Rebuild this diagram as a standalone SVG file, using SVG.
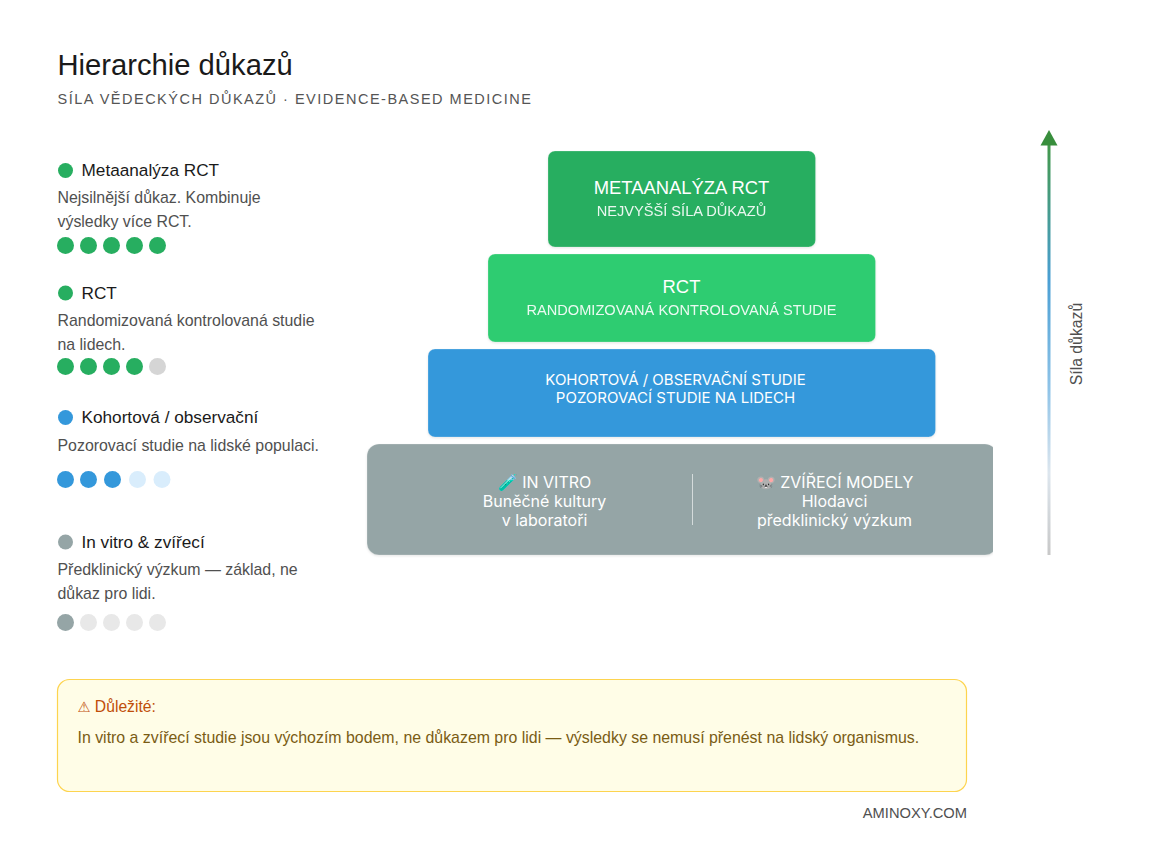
<svg xmlns="http://www.w3.org/2000/svg" width="1168" height="850" viewBox="0 0 1168 850">
<style>
text{font-family:"Liberation Sans",Arial,sans-serif}
.h{font-size:17.200px;fill:#1a1a1a}
.d{font-size:15.900px;fill:#505050}
.w{font-family:Inter,"Liberation Sans",sans-serif;fill:#fff;text-anchor:middle}
.p{stroke:#fff;stroke-opacity:.22;filter:drop-shadow(0 1px 1px rgba(0,0,0,.1))}
.ls{font-family:"Liberation Sans",sans-serif}
</style>
<defs>
<linearGradient id="ax" x1="0" y1="0" x2="0" y2="1">
<stop offset="0" stop-color="#43984a"/><stop offset=".33" stop-color="#4a9fd4"/><stop offset=".6" stop-color="#90c4e8"/><stop offset=".8" stop-color="#dde6ee"/><stop offset="1" stop-color="#c8c8c8"/>
</linearGradient>
<clipPath id="cl"><rect x="360" y="440" width="633" height="120"/></clipPath>
</defs>
<rect width="1168" height="850" fill="#fff"/>
<g id="title">
<text x="57.500" y="74.500" font-size="29.200" fill="#1a1a1a">Hierarchie důkazů</text>
<text x="57.500" y="104" font-size="14.500" letter-spacing="1.500" fill="#555">SÍLA VĚDECKÝCH DŮKAZŮ · EVIDENCE-BASED MEDICINE</text>
</g>
<g id="legend-meta">
<circle cx="65.500" cy="170.500" r="7.500" fill="#27ae60"/>
<text class="h" x="81.500" y="176">Metaanalýza RCT</text>
<text class="d" x="57.500" y="203">Nejsilnější důkaz. Kombinuje</text>
<text class="d" x="57.500" y="227">výsledky více RCT.</text>
<g fill="#27ae60"><circle cx="65.500" cy="245.500" r="8.500"/><circle cx="88.500" cy="245.500" r="8.500"/><circle cx="111.500" cy="245.500" r="8.500"/><circle cx="134.500" cy="245.500" r="8.500"/><circle cx="157.500" cy="245.500" r="8.500"/></g>
</g>
<g id="legend-rct">
<circle cx="65.500" cy="293" r="7.500" fill="#27ae60"/>
<text class="h" x="81.500" y="299">RCT</text>
<text class="d" x="57.500" y="326">Randomizovaná kontrolovaná studie</text>
<text class="d" x="57.500" y="350">na lidech.</text>
<g fill="#27ae60"><circle cx="65.500" cy="366.500" r="8.500"/><circle cx="88.500" cy="366.500" r="8.500"/><circle cx="111.500" cy="366.500" r="8.500"/><circle cx="134.500" cy="366.500" r="8.500"/></g><circle cx="157.500" cy="366.500" r="8.500" fill="#d5d5d5"/>
</g>
<g id="legend-cohort">
<circle cx="65.500" cy="417.500" r="7.500" fill="#3498db"/>
<text class="h" x="81.500" y="423">Kohortová / observační</text>
<text class="d" x="57.500" y="450.500">Pozorovací studie na lidské populaci.</text>
<g fill="#3498db"><circle cx="65.500" cy="479.500" r="8.500"/><circle cx="88.500" cy="479.500" r="8.500"/><circle cx="112.500" cy="479.500" r="8.500"/></g><g fill="#d9edfc"><circle cx="137.500" cy="479.500" r="8.500"/><circle cx="162" cy="479.500" r="8.500"/></g>
</g>
<g id="legend-vitro">
<circle cx="65.500" cy="542" r="7.500" fill="#95a5a6"/>
<text class="h" x="81.500" y="548">In vitro &amp; zvířecí</text>
<text class="d" x="57.500" y="574.500">Předklinický výzkum — základ, ne</text>
<text class="d" x="57.500" y="598.500">důkaz pro lidi.</text>
<circle cx="65.500" cy="622.500" r="8.500" fill="#95a5a6"/>
<g fill="#e8e8e8"><circle cx="88.500" cy="622.500" r="8.500"/><circle cx="111.500" cy="622.500" r="8.500"/><circle cx="134.500" cy="622.500" r="8.500"/><circle cx="157.500" cy="622.500" r="8.500"/></g>
</g>
<g id="tier-meta">
<rect class="p" x="548" y="151" width="267.500" height="96" rx="7" fill="#27ae60"/>
<text class="w ls" x="681.500" y="193.500" font-size="18.400" style="font-family:'Liberation Sans',sans-serif">METAANALÝZA RCT</text>
<text class="w ls" x="681.500" y="216" font-size="14.600" opacity=".9" style="font-family:'Liberation Sans',sans-serif">NEJVYŠŠÍ SÍLA DŮKAZŮ</text>
</g>
<g id="tier-rct">
<rect class="p" x="488" y="254" width="387.500" height="88" rx="7" fill="#2ecc71"/>
<text class="w ls" x="681.500" y="292.500" font-size="18.400" style="font-family:'Liberation Sans',sans-serif">RCT</text>
<text class="w ls" x="681.500" y="315" font-size="14.600" opacity=".9" style="font-family:'Liberation Sans',sans-serif">RANDOMIZOVANÁ KONTROLOVANÁ STUDIE</text>
</g>
<g id="tier-cohort">
<rect class="p" x="428" y="349" width="507.500" height="88" rx="7" fill="#3498db"/>
<text class="w" x="675.500" y="385" font-size="15">KOHORTOVÁ / OBSERVAČNÍ STUDIE</text>
<text class="w" x="675.500" y="403" font-size="15">POZOROVACÍ STUDIE NA LIDECH</text>
</g>
<g id="tier-base">
<g clip-path="url(#cl)"><rect class="p" x="367" y="444" width="630" height="111" rx="12" fill="#95a5a6"/></g>
<line x1="692.500" y1="474" x2="692.500" y2="525" stroke="#fff" stroke-opacity=".6"/>
<text class="w" x="544.500" y="488" font-size="16">🧪 IN VITRO</text>
<text class="w" x="544.500" y="507" font-size="16">Buněčné kultury</text>
<text class="w" x="544.500" y="526" font-size="16">v laboratoři</text>
<text class="w" x="834.500" y="488" font-size="16">🐭 ZVÍŘECÍ MODELY</text>
<text class="w" x="834.500" y="507" font-size="16">Hlodavci</text>
<text class="w" x="834.500" y="526" font-size="16">předklinický výzkum</text>
</g>
<g id="connectors">
<rect x="1047.500" y="144" width="3" height="411" fill="url(#ax)"/>
<polygon points="1049,130 1057.500,145.500 1040.500,145.500" fill="#388e3c"/>
</g>
<text x="1082" y="344" font-size="15.800" fill="#505050" text-anchor="middle" transform="rotate(-90 1082 344)">Síla důkazů</text>
<g id="note">
<rect x="57.500" y="679.500" width="909" height="112" rx="12" fill="#fffde7" stroke="#fdd44f" stroke-width="1.200"/>
<text x="77.500" y="712" font-size="15.700" fill="#bf4e0a"><tspan style="font-family:'DejaVu Sans',sans-serif" font-size="14.500">⚠</tspan> Důležité:</text>
<text x="77.500" y="743" font-size="15.900" fill="#7a5c14">In vitro a zvířecí studie jsou výchozím bodem, ne důkazem pro lidi — výsledky se nemusí přenést na lidský organismus.</text>
</g>
<text x="967" y="818" font-size="14.700" fill="#505050" text-anchor="end">AMINOXY.COM</text>
</svg>
